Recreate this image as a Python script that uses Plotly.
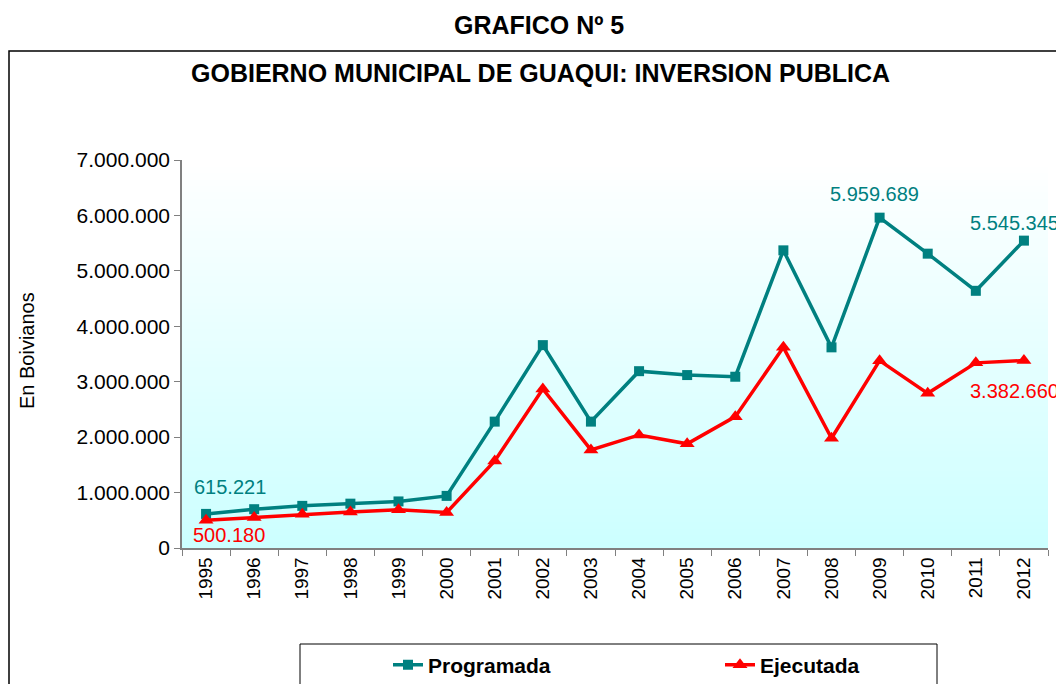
import plotly.graph_objects as go

years = [str(y) for y in range(1995, 2013)]
programada = [615221, 700000, 760000, 800000, 840000, 940000, 2280000, 3660000, 2280000,
              3190000, 3120000, 3090000, 5370000, 3620000, 5959689, 5310000, 4640000, 5545345]
ejecutada = [500180, 550000, 610000, 650000, 690000, 640000, 1570000, 2870000, 1770000,
             2040000, 1880000, 2370000, 3620000, 1980000, 3380000, 2790000, 3340000, 3382660]

TEAL = "#008080"
RED = "#FF0000"
FONT = "Liberation Sans, Arial, sans-serif"

OFF = 8  # page body margin
W, H = 1064, 684
# plot area in screen pixels
SX0, SX1, SY0, SY1 = 182, 1048, 160, 548
PW, PH = SX1 - SX0, SY1 - SY0
L, T = SX0 - OFF, SY0 - OFF
R, B = W - L - PW, H - T - PH

def px(xp):
    return (xp - SX0) / PW

def py(yp):
    return (SY1 - yp) / PH

def fmt(v):
    return f"{v:,}".replace(",", ".")

fig = go.Figure()
fig.add_trace(go.Scatter(x=years, y=programada, name="<b>Programada</b>", mode="lines+markers",
                         line=dict(color=TEAL, width=3.5),
                         marker=dict(symbol="square", size=10, color=TEAL), legend="legend"))
fig.add_trace(go.Scatter(x=years, y=ejecutada, name="<b>Ejecutada</b>", mode="lines+markers",
                         line=dict(color=RED, width=3.5),
                         marker=dict(symbol="triangle-up", size=13, color=RED), legend="legend2"))

shapes = []
N = 60
for i in range(N):
    t = (i + 0.5) / N
    r = int(round(0xCC + (255 - 0xCC) * t))
    shapes.append(dict(type="rect", xref="paper", yref="paper", x0=0, x1=1,
                       y0=i / N, y1=(i + 1) / N + 0.002, layer="below",
                       line=dict(width=0), fillcolor=f"rgb({r},255,255)"))
shapes.append(dict(type="rect", xref="paper", yref="paper", x0=px(9), x1=px(1085),
                   y0=py(710), y1=py(51), line=dict(color="black", width=1.5),
                   fillcolor="rgba(0,0,0,0)", layer="above"))
shapes.append(dict(type="rect", xref="paper", yref="paper", x0=px(300), x1=px(937),
                   y0=py(710), y1=py(644), line=dict(color="black", width=1),
                   fillcolor="white", layer="above"))

annotations = [
    dict(text="<b>GRAFICO Nº 5</b>", xref="paper", yref="paper", x=px(539), y=py(25),
         xanchor="center", yanchor="middle", showarrow=False,
         font=dict(size=25, color="black", family=FONT)),
    dict(text="<b>GOBIERNO MUNICIPAL DE GUAQUI: INVERSION PUBLICA</b>", xref="paper",
         yref="paper", x=px(540), y=py(73), xanchor="center", yanchor="middle",
         showarrow=False, font=dict(size=25, color="black", family=FONT)),
    dict(text="En Boivianos", xref="paper", yref="paper", x=px(27), y=py(351),
         xanchor="center", yanchor="middle", textangle=-90, showarrow=False,
         font=dict(size=20, color="black", family=FONT)),
]

labels = [
    (0, programada, TEAL, 24, 27),
    (0, ejecutada, RED, 23, -15),
    (14, programada, TEAL, -5, 24),
    (17, programada, TEAL, -9, 18),
    (17, ejecutada, RED, -9, -30),
]
for idx, series, col, xs, ys in labels:
    annotations.append(dict(x=idx, y=series[idx], xref="x", yref="y",
                            text=fmt(series[idx]), showarrow=False, xshift=xs, yshift=ys,
                            font=dict(size=20, color=col, family=FONT)))

leg_common = dict(orientation="h", xanchor="left", yanchor="middle",
                  bgcolor="rgba(0,0,0,0)", borderwidth=0,
                  font=dict(size=21, family=FONT, color="black"))

fig.update_layout(
    width=W, height=H,
    margin=dict(l=L, r=R, t=T, b=B, autoexpand=False),
    paper_bgcolor="white",
    plot_bgcolor="rgba(0,0,0,0)",
    separators=",.",
    font=dict(family=FONT, color="black", size=18),
    shapes=shapes,
    annotations=annotations,
    showlegend=True,
    legend=dict(x=px(388), y=py(665), **leg_common),
    legend2=dict(x=px(720), y=py(665), **leg_common),
    xaxis=dict(type="category", range=[-0.5, len(years) - 0.5], showline=True,
               linecolor="#808080", linewidth=1.5,
               ticks="outside", tickson="boundaries", ticklen=6, tickcolor="#808080",
               tickangle=-90, showgrid=False, zeroline=False,
               tickfont=dict(size=19, color="black", family=FONT)),
    yaxis=dict(range=[0, 7000000], dtick=1000000, tickformat=",d", showline=True,
               linecolor="#808080", linewidth=1.5, ticks="outside", ticklen=6,
               tickcolor="#808080", showgrid=False, zeroline=False,
               tickfont=dict(size=21, color="black", family=FONT)),
)

fig.write_html("out.html")
